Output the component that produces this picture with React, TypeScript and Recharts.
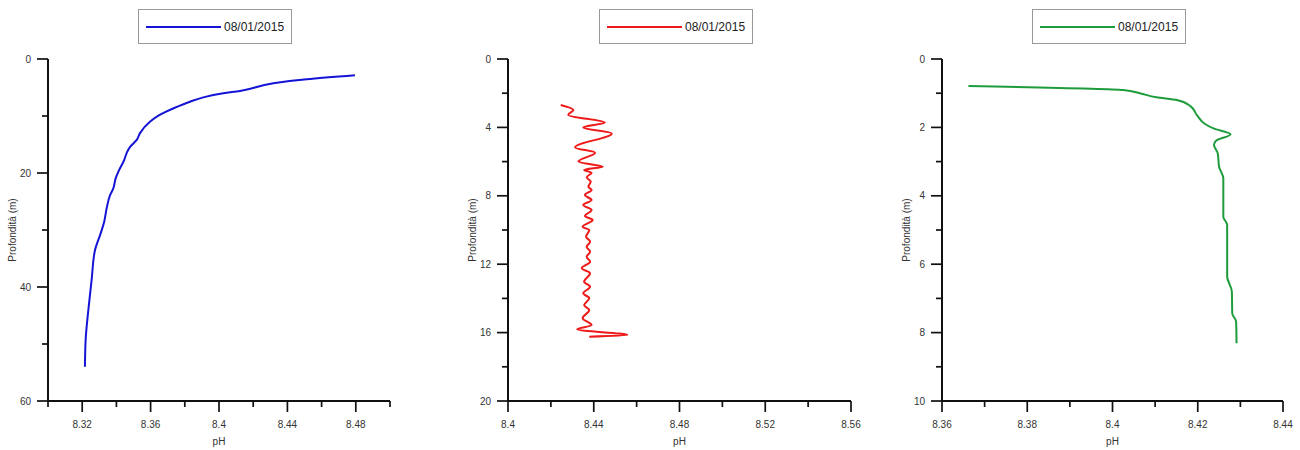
import React from "react";
import { LineChart, Line, XAxis, YAxis, Legend } from "recharts";

// profile 1 (blue)
const depth1 = [2.86, 3.57, 4.27, 5.61, 6.02, 6.73, 7.49, 8.6, 9.9, 11.0, 13.0, 14.2, 15.4, 16.5, 17.7, 19.8, 20.9, 22.7, 23.9, 26.2, 28.5, 30.5, 33.5, 38.8, 44.0, 49.3, 54.0];
const ph1 = [8.4795, 8.4513, 8.4318, 8.4123, 8.4025, 8.3908, 8.383, 8.3738, 8.3648, 8.3596, 8.3538, 8.3519, 8.348, 8.346, 8.3446, 8.3411, 8.3396, 8.3382, 8.3363, 8.3343, 8.3329, 8.3309, 8.3275, 8.3255, 8.3236, 8.322, 8.3216];

// profile 2 (red)
const depth2 = [2.69, 2.98, 3.27, 3.72, 4.0, 4.35, 5.17, 5.48, 6.0, 6.3, 6.49, 6.65, 6.92, 7.17, 7.47, 7.66, 7.95, 8.25, 8.54, 8.83, 9.18, 9.42, 9.81, 10.0, 10.39, 10.68, 10.98, 11.27, 11.56, 11.85, 12.24, 12.53, 13.02, 13.32, 13.7, 13.99, 14.39, 14.68, 15.16, 15.56, 15.81, 16.14, 16.24];
const ph2 = [8.4246, 8.4305, 8.4281, 8.4452, 8.4351, 8.4484, 8.4313, 8.4406, 8.4328, 8.4442, 8.4355, 8.439, 8.4367, 8.4386, 8.4375, 8.439, 8.4359, 8.439, 8.4351, 8.439, 8.4359, 8.4395, 8.4348, 8.4379, 8.4364, 8.4383, 8.4367, 8.4383, 8.4367, 8.4383, 8.4344, 8.4383, 8.4355, 8.4383, 8.4351, 8.4379, 8.4355, 8.4379, 8.4348, 8.439, 8.4323, 8.4557, 8.4379];

// profile 3 (green)
const depth3 = [0.79, 0.906, 1.0, 1.12, 1.2, 1.37, 1.64, 1.9, 2.03, 2.2, 2.39, 2.51, 2.76, 3.15, 3.49, 4.61, 4.85, 6.36, 6.8, 7.44, 7.68, 8.31];
const ph3 = [8.3662, 8.4025, 8.4064, 8.4103, 8.4151, 8.4182, 8.4198, 8.4217, 8.4237, 8.4277, 8.4243, 8.4238, 8.4247, 8.425, 8.426, 8.426, 8.4269, 8.4269, 8.428, 8.4281, 8.429, 8.4291];

const seriesName = "08/01/2015";

const xTicks1 = [8.3, 8.32, 8.34, 8.36, 8.38, 8.4, 8.42, 8.44, 8.46, 8.48, 8.5];
const xLabels1 = ["", "8.32", "", "8.36", "", "8.4", "", "8.44", "", "8.48", ""];
const yTicks1 = [0, 10, 20, 30, 40, 50, 60];
const yLabels1 = ["0", "", "20", "", "40", "", "60"];

const xTicks2 = [8.4, 8.42, 8.44, 8.46, 8.48, 8.5, 8.52, 8.54, 8.56];
const xLabels2 = ["8.4", "", "8.44", "", "8.48", "", "8.52", "", "8.56"];
const yTicks2 = [0, 2, 4, 6, 8, 10, 12, 14, 16, 18, 20];
const yLabels2 = ["0", "", "4", "", "8", "", "12", "", "16", "", "20"];

const xTicks3 = [8.36, 8.37, 8.38, 8.39, 8.4, 8.41, 8.42, 8.43, 8.44];
const xLabels3 = ["8.36", "", "8.38", "", "8.4", "", "8.42", "", "8.44"];
const yTicks3 = [0, 1, 2, 3, 4, 5, 6, 7, 8, 9, 10];
const yLabels3 = ["0", "", "2", "", "4", "", "6", "", "8", "", "10"];

const FONT = "'Liberation Sans', Arial, sans-serif";

const toRows = (depth: number[], ph: number[]) => depth.map((d, i) => ({ depth: d, ph: ph[i] }));

const charts = [
  { left: 0, data: toRows(depth1, ph1), color: "#1414d6", xTicks: xTicks1, xLabels: xLabels1, yTicks: yTicks1, yLabels: yLabels1, plotLeft: 48, plotRight: 390, legendLeft: 138 },
  { left: 440, data: toRows(depth2, ph2), color: "#ee1a1a", xTicks: xTicks2, xLabels: xLabels2, yTicks: yTicks2, yLabels: yLabels2, plotLeft: 508, plotRight: 851, legendLeft: 159 },
  { left: 870, data: toRows(depth3, ph3), color: "#1e9c3c", xTicks: xTicks3, xLabels: xLabels3, yTicks: yTicks3, yLabels: yLabels3, plotLeft: 942, plotRight: 1283, legendLeft: 162 },
];

const CHART_W = 430;
const CHART_H = 450;
const PLOT_TOP = 59;
const PLOT_BOTTOM = 401;

function XTick(props: any) {
  const { x, y, index, labels } = props;
  const label = labels[index];
  const major = label !== "";
  return (
    <g>
      <line x1={x} x2={x} y1={y} y2={y + (major ? 11 : 6)} stroke="#111" strokeWidth={1.7} />
      {major && (
        <text x={x} y={y + 27} textAnchor="middle" fontSize={10} fill="#333" fontFamily={FONT}>
          {label}
        </text>
      )}
    </g>
  );
}

function YTick(props: any) {
  const { x, y, index, labels } = props;
  const label = labels[index];
  const major = label !== "";
  return (
    <g>
      <line x1={x} x2={x - (major ? 11 : 6)} y1={y} y2={y} stroke="#111" strokeWidth={1.7} />
      {major && (
        <text x={x - 17} y={y} dy="0.35em" textAnchor="end" fontSize={10} fill="#333" fontFamily={FONT}>
          {label}
        </text>
      )}
    </g>
  );
}

function LegendBox(props: any) {
  const item = props.payload && props.payload[0];
  return (
    <div
      style={{
        boxSizing: "border-box",
        width: 154,
        height: 35,
        border: "1px solid #999",
        background: "#fff",
        display: "flex",
        alignItems: "center",
        fontFamily: FONT,
        fontSize: 12,
        color: "#222",
      }}
    >
      <svg width={75} height={4} style={{ marginLeft: 7 }}>
        <line x1={0} x2={75} y1={2} y2={2} stroke={item ? item.color : "#000"} strokeWidth={2} />
      </svg>
      <span style={{ marginLeft: 3 }}>{item ? item.value : seriesName}</span>
    </div>
  );
}

export default function App() {
  return (
    <div style={{ position: "absolute", left: 0, top: 0, width: 1300, height: 450, background: "#fff", fontFamily: FONT }}>
      {charts.map((c, i) => (
        <div key={i} style={{ position: "absolute", left: c.left, top: 0 }}>
          <LineChart
            width={CHART_W}
            height={CHART_H}
            data={c.data}
            layout="vertical"
            margin={{ top: PLOT_TOP, bottom: 0, left: 0, right: c.left + CHART_W - c.plotRight }}
          >
            <XAxis
              type="number"
              domain={[c.xTicks[0], c.xTicks[c.xTicks.length - 1]]}
              ticks={c.xTicks}
              interval={0}
              height={CHART_H - PLOT_BOTTOM}
              tickSize={0}
              tickMargin={0}
              tickLine={false}
              axisLine={{ stroke: "#111", strokeWidth: 2 }}
              tick={(p: any) => <XTick {...p} labels={c.xLabels} />}
              label={(p: any) => {
                const cx = (c.plotLeft + c.plotRight) / 2 - c.left;
                return (
                  <text x={cx} y={PLOT_BOTTOM + 44} textAnchor="middle" fontSize={10} fill="#333" fontFamily={FONT}>
                    pH
                  </text>
                );
              }}
            />
            <YAxis
              type="number"
              dataKey="depth"
              domain={[c.yTicks[0], c.yTicks[c.yTicks.length - 1]]}
              ticks={c.yTicks}
              interval={0}
              width={c.plotLeft - c.left}
              tickSize={0}
              tickMargin={0}
              tickLine={false}
              axisLine={{ stroke: "#111", strokeWidth: 2 }}
              tick={(p: any) => <YTick {...p} labels={c.yLabels} />}
              label={(p: any) => {
                const cx = c.plotLeft - c.left - 36;
                const cy = (PLOT_TOP + PLOT_BOTTOM) / 2;
                return (
                  <text x={cx} y={cy} dy="0.35em" textAnchor="middle" fontSize={10} fill="#333" fontFamily={FONT} transform={`rotate(-90 ${cx} ${cy})`}>
                    Profondità (m)
                  </text>
                );
              }}
            />
            <Legend
              layout="vertical"
              align="center"
              verticalAlign="middle"
              wrapperStyle={{ top: 9, left: c.legendLeft, width: 154 }}
              content={(p: any) => <LegendBox {...p} />}
            />
            <Line
              type="monotone"
              dataKey="ph"
              name={seriesName}
              stroke={c.color}
              strokeWidth={2}
              dot={false}
              isAnimationActive={false}
            />
          </LineChart>
        </div>
      ))}
    </div>
  );
}
